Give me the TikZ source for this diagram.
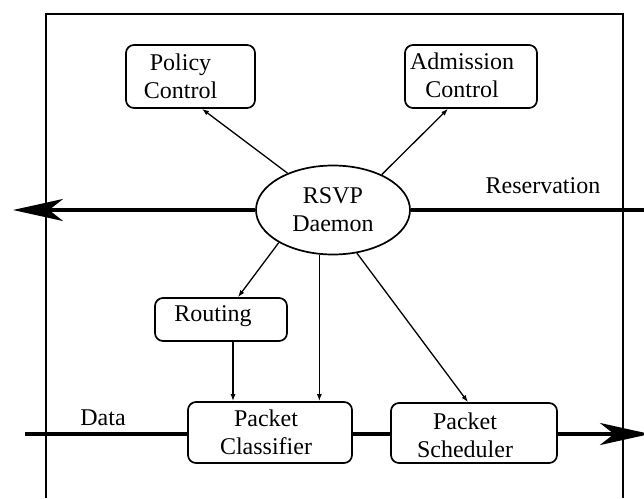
\documentclass[tikz,border=0pt]{standalone}
\usepackage{fontspec}
\setmainfont{Liberation Serif}
\usetikzlibrary{arrows.meta,shapes.geometric,calc}
\begin{document}
\begin{tikzpicture}[x=1pt,y=-1pt,
  font=\fontsize{24}{28}\selectfont,
  box/.style={draw, rounded corners=8pt, line width=1.7pt, inner sep=0pt},
  txt/.style={inner sep=0pt, align=center},
  conn/.style={line width=1.3pt, -{Latex[length=7pt,width=5pt]}},
  flow/.style={line width=3.8pt},
  bigtip/.style={-{Stealth[length=50pt,width=22pt,inset=14pt]}},
  frame/.style={line width=1.6pt},
  lbl/.style={inner sep=0pt}]
\useasboundingbox (0,0) rectangle (644,498);
\draw[frame] (46,498) -- (46,14) -- (623,14) -- (623,498);
\node[box, minimum width=129pt, minimum height=63pt] (policy) at (190.5,76.5) {};
\node[txt] (policyT) at ($(policy)+(-10,0)$) {Policy\\Control};
\node[box, minimum width=132pt, minimum height=63pt] (adm) at (471,76.5) {};
\node[txt] (admT) at ($(adm)+(-9,-1.5)$) {Admission\\Control};
\node[draw, ellipse, line width=1.7pt, minimum width=154pt, minimum height=89pt, inner sep=0pt, align=center] (rsvp) at (333,210) {RSVP\\Daemon};
\node[box, minimum width=132pt, minimum height=43pt] (routing) at (221,319.5) {};
\node[txt] (routingT) at ($(routing)+(-8,-3)$) {Routing};
\node[box, minimum width=164pt, minimum height=61pt] (clf) at (270,432.5) {};
\node[txt] (clfT) at ($(clf)+(-4,0)$) {Packet\\Classifier};
\node[box, minimum width=166pt, minimum height=60pt] (sch) at (474,433) {};
\node[txt] (schT) at ($(sch)+(-9,2)$) {Packet\\Scheduler};
\node[lbl] (data) at (103,418) {Data};
\node[lbl] (res) at (543,186) {Reservation};
\coordinate (resL) at (13,210);
\coordinate (resR) at (644,210);
\coordinate (dataL) at (25,434);
\coordinate (dataR) at (650,434);
\draw[flow] (resR) -- (rsvp.east);
\draw[flow, bigtip] (rsvp.west) -- (resL);
\draw[flow] (dataL) -- (clf.west |- dataL);
\draw[flow] (clf.east |- dataL) -- (sch.west |- dataL);
\draw[flow, bigtip] (sch.east |- dataL) -- (dataR);
\draw[conn] (rsvp.141) -- ($(policy.south)+(11.5,0)$);
\draw[conn] (rsvp.36) -- ($(adm.south)+(-23,0)$);
\draw[conn] (rsvp.211) -- ($(routing.north)+(17,0)$);
\draw[conn] (rsvp.253) -- (rsvp.253 |- clf.north);
\draw[conn] (rsvp.299) -- ($(sch.north)+(-6,0)$);
\coordinate (rt) at ($(routing.south)+(12,0)$);
\draw[conn] (rt) -- (rt |- clf.north);
\end{tikzpicture}
\end{document}
